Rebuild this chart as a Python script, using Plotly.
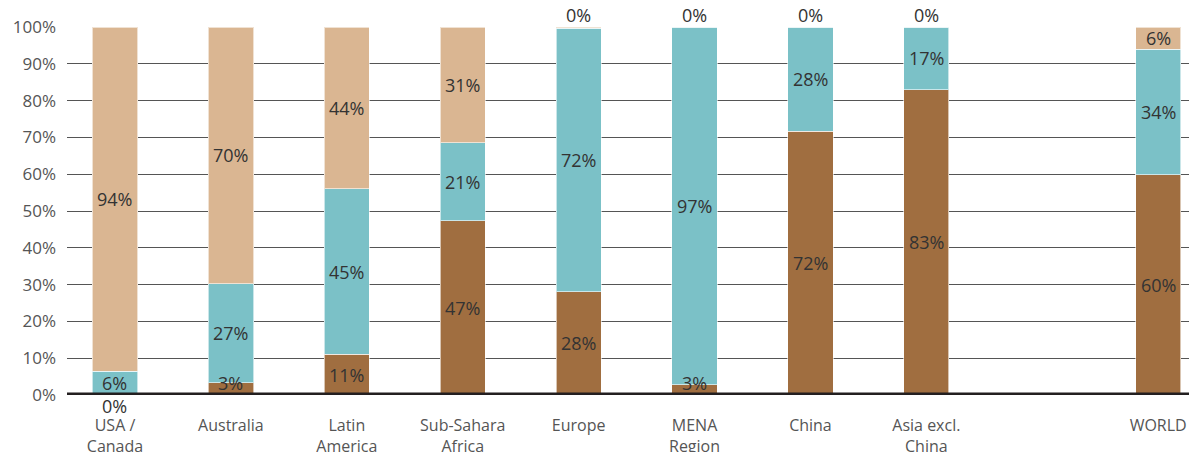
import plotly.graph_objects as go

categories = ["USA /<br>Canada", "Australia", "Latin<br>America", "Sub-Sahara<br>Africa", "Europe",
              "MENA<br>Region", "China", "Asia excl.<br>China", " ", "WORLD"]
bottom_vals = [0.0, 3.3, 11.1, 47.4, 28.0, 2.8, 71.7, 82.9, None, 59.8]
middle_vals = [6.4, 26.9, 44.9, 21.2, 71.6, 97.2, 28.3, 17.1, None, 34.2]
top_vals = [93.6, 69.8, 44.0, 31.4, 0.4, 0.0, 0.0, 0.0, None, 6.0]
y_ticks = [0, 10, 20, 30, 40, 50, 60, 70, 80, 90, 100]
y_tick_labels = [f"{v}%" for v in y_ticks]

colors = ["#A06E40", "#7BC1C7", "#DAB692"]
FONT = "Open Sans"

fig = go.Figure()
series = [bottom_vals, middle_vals, top_vals]
for vals, col in zip(series, colors):
    fig.add_trace(go.Bar(
        x=categories, y=vals, marker=dict(color=col, line=dict(color="rgba(255,255,255,0.6)", width=1)),
        hoverinfo="skip", showlegend=False,
    ))

annotations = []
for i, cat in enumerate(categories):
    if bottom_vals[i] is None:
        continue
    base = 0.0
    total = bottom_vals[i] + middle_vals[i] + top_vals[i]
    for k, vals in enumerate(series):
        v = vals[i]
        txt = f"{round(v)}%"
        if v < 1:
            if k == 0:
                annotations.append(dict(x=cat, y=0, text=txt, showarrow=False, yanchor="top", yshift=3))
            else:
                annotations.append(dict(x=cat, y=total, text=txt, showarrow=False, yanchor="bottom", yshift=-2))
        else:
            annotations.append(dict(x=cat, y=max(base + v / 2, 3.2), text=txt, showarrow=False, yanchor="middle"))
        base += v
for a in annotations:
    a["font"] = dict(family=FONT, size=18, color="#333333")

fig.update_layout(
    barmode="stack",
    bargap=0.61,
    width=1189, height=444,
    margin=dict(l=59, r=0, t=19, b=57),
    plot_bgcolor="white", paper_bgcolor="white",
    annotations=annotations,
    font=dict(family=FONT, size=16, color="#555555"),
    xaxis=dict(type="category", range=[-0.414, 9.335], showgrid=False, showline=False,
               ticks="", tickfont=dict(size=16, color="#555555"), ticklabelstandoff=19,
               zeroline=False, automargin=False),
    yaxis=dict(range=[0, 100], tickvals=y_ticks, ticktext=y_tick_labels, showgrid=True,
               gridcolor="#555555", gridwidth=1, zeroline=False, showline=False, ticks="",
               tickfont=dict(size=17, color="#555555"), ticklabelstandoff=10, automargin=False),
    shapes=[
        dict(type="line", xref="paper", yref="y", x0=0, x1=1, y0=0, y1=0,
             ysizemode="pixel", yanchor=0,
             line=dict(color="#231F20", width=5), layer="above"),
        dict(type="line", xref="paper", yref="y", x0=0, x1=1, y0=-3.5, y1=-3.5,
             ysizemode="pixel", yanchor=0,
             line=dict(color="#999999", width=1.5), layer="above"),
    ],
)

fig.write_html("out.html")
